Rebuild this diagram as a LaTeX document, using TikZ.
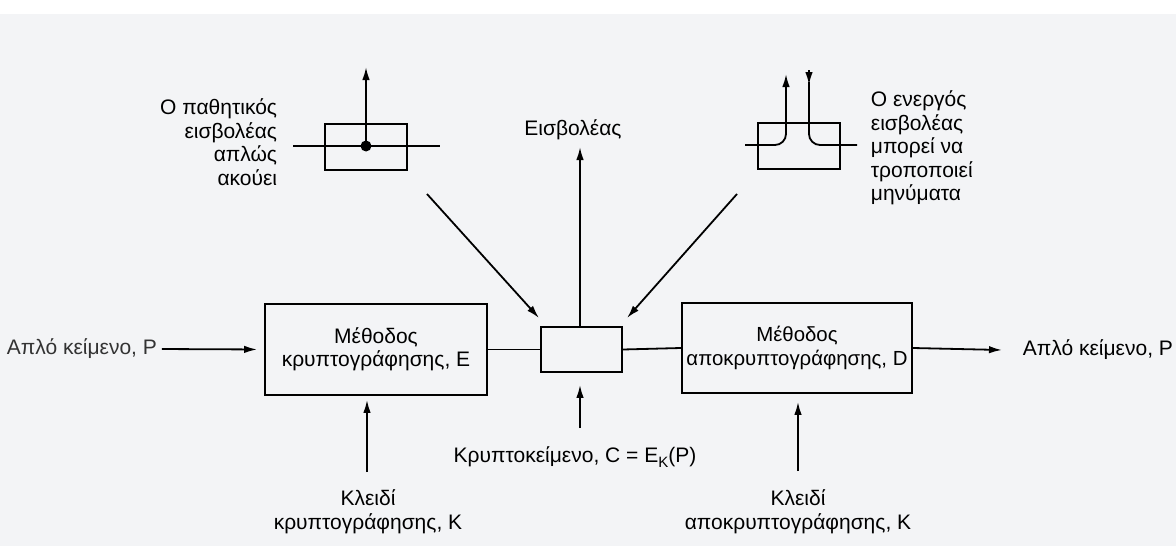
\documentclass[tikz,border=0pt]{standalone}
\usepackage{fontspec}
\setmainfont{Liberation Sans}
\usetikzlibrary{arrows.meta}
\definecolor{paper}{HTML}{F3F4F6}
\begin{document}
\begin{tikzpicture}[x=1pt,y=-1pt,
  line width=1.8pt,
  every node/.style={font=\fontsize{21}{23.5}\selectfont, inner sep=0pt},
  box/.style={draw, line width=1.8pt, minimum width=#1},
  lbl/.style={align=center},
  arr/.style={-{Latex[length=13pt,width=7.5pt]}},
]
% page background
\fill[paper] (0,0) rectangle (1176,546);
\fill[white] (0,0) rectangle (1176,14);
\useasboundingbox (0,0) rectangle (1176,546);

% main chain: plaintext -> E -> channel -> D -> plaintext
\node[box=222pt, minimum height=91pt, lbl] (E) at (376,349.5) {Μέθοδος\\κρυπτογράφησης, E};
\node[box=81pt, minimum height=45pt] (C) at (581.5,349.5) {};
\node[box=230pt, minimum height=90pt, lbl, font=\fontsize{20.4}{23.5}\selectfont] (D) at (797,348) {Μέθοδος\\αποκρυπτογράφησης, D};

\node[anchor=west, text=black!80] (pin) at (6,349) {Απλό κείμενο, P};
\node[anchor=west] (pout) at (1022,350) {Απλό κείμενο, P};

\draw[arr, shorten <=4pt, shorten >=7pt] (pin.east) -- (E.west);
\draw (E.east) -- (C.west);
\draw (C.east) -- (D.west);
\draw[arr] (D.east) -- ([xshift=-20pt]pout.west);

% keys and ciphertext label
\node[lbl] (kE) at (368,512) {Κλειδί\\κρυπτογράφησης, K};
\node[lbl] (kD) at (798,512) {Κλειδί\\αποκρυπτογράφησης, K};
\node (ct) at (575,457) {Κρυπτοκείμενο, C = E\raisebox{-0.45ex}{\fontsize{15}{15}\selectfont K}(P)};
\coordinate (kEs) at (367,472);
\coordinate (kDs) at (798,471);
\coordinate (cts) at (580,428);
\draw[arr, shorten >=4pt] (kEs) -- (kEs |- E.south);
\draw[arr, shorten >=8pt] (kDs) -- (kDs |- D.south);
\draw[arr, shorten >=12pt] (cts) -- (cts |- C.south);

% intruder
\node (intr) at (573,130) {Εισβολέας};
\coordinate (intrs) at (580,147);
\draw[arr] (C.north -| intrs) -- (intrs);
\coordinate (dl) at (427,194);
\coordinate (dr) at (737,194);
\draw[arr] (dl) -- (539,318);
\draw[arr] (dr) -- (627,318);

% passive intruder: tap on the line
\node[box=82pt, minimum height=46pt] (pbox) at (366,147) {};
\coordinate (pl) at (293,146);
\coordinate (pr) at (440,146);
\draw (pl) -- (pr);
\fill (366,146) circle (5.5pt) coordinate (tap);
\coordinate (ptop) at (366,67);
\draw[arr] (tap) -- (ptop);
\node[anchor=east, align=right] (ptxt) at (278,142) {Ο παθητικός\\εισβολέας\\απλώς\\ακούει};

% active intruder: line cut and rerouted
\node[box=82pt, minimum height=46pt] (abox) at (799,146) {};
\coordinate (al) at (745,145);
\coordinate (ar) at (857,145);
\coordinate (aup) at (786,74);
\coordinate (adn) at (809,70);
\draw[arr] (al) -- (775,145) arc[start angle=-90, end angle=0, radius=11pt] -- (aup);
\draw[arr] (adn) -- (809,85);
\draw (809,82) -- (809,134) arc[start angle=180, end angle=270, radius=11pt] -- (ar);
\node[anchor=west, align=left] (atxt) at (870,148) {Ο ενεργός\\εισβολέας\\μπορεί να\\τροποποιεί\\μηνύματα};
\end{tikzpicture}
\end{document}
